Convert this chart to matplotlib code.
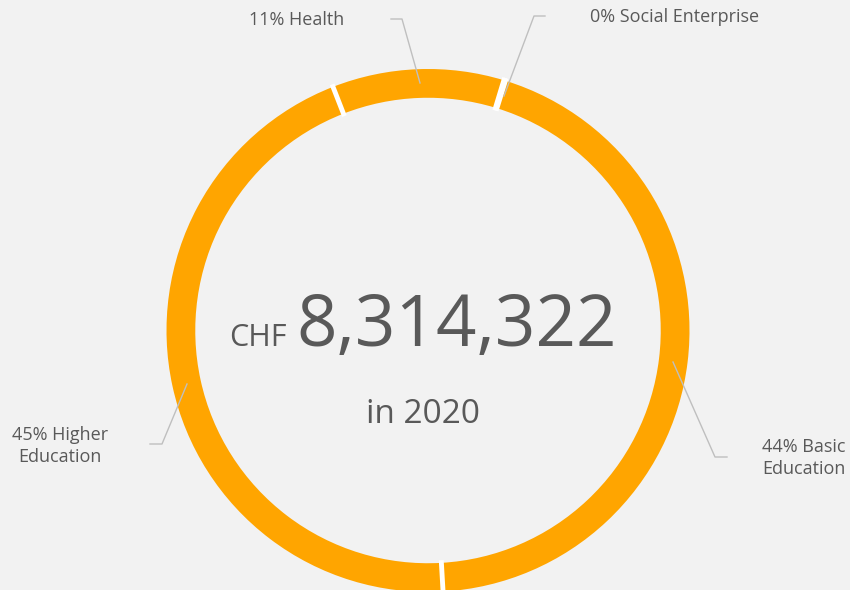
import numpy as np
import matplotlib.pyplot as plt

# ---- data ----
labels = ["Higher\nEducation", "Health", "Social Enterprise", "Basic\nEducation"]
shares = [45.0, 10.6, 0.1, 44.3]
pct_text = ["45%", "11%", "0%", "44%"]
total = "8,314,322"
year = "2020"

BG = "#F2F2F2"
ORANGE = "#FFA500"
GREY = "#595959"
LINE = "#BFBFBF"

plt.rcParams["font.family"] = ["Open Sans", "DejaVu Sans"]

W, H = 850, 590
CX, CY, R = 428, 330.5, 261.5   # ring centre / radius in pixels (from top)
START = -86.7
RING = 0.11

fig = plt.figure(figsize=(8.5, 5.9), dpi=100, facecolor=BG)
ax = fig.add_axes([0, 0, 1, 1])
ax.set_facecolor(BG)

ax.pie(shares, startangle=START, counterclock=False, radius=1,
       colors=[ORANGE] * len(shares),
       wedgeprops=dict(width=RING, edgecolor="none", linewidth=0))

# white separators between slices
cum = np.cumsum([0] + shares[:-1]) / sum(shares)
for frac in cum:
    th = np.deg2rad(START - 360 * frac)
    r = np.array([1 - RING - 0.01, 1.01])
    ax.plot(r * np.cos(th), r * np.sin(th), color="white", lw=3.5,
            solid_capstyle="butt")

ax.set_aspect("auto")
ax.set_xlim(-CX / R, (W - CX) / R)
ax.set_ylim(-(H - CY) / R, CY / R)
ax.axis("off")


def p(x, y):
    # pixel position -> data coords
    return (x - CX) / R, (CY - y) / R


# leader lines
leaders = [
    [(150, 444), (162, 444), (187, 384)],
    [(391, 19), (402, 19), (420, 83)],
    [(545, 16), (534, 16), (504, 96)],
    [(727, 457), (715, 457), (673, 362)],
]
for pts in leaders:
    xy = [p(*q) for q in pts]
    ax.plot([a for a, b in xy], [b for a, b in xy], color=LINE, lw=1)

# slice labels
label_pos = [(60, 446), (297, 20), (675, 17), (804, 458)]
for lab, pc, (x, y) in zip(labels, pct_text, label_pos):
    ax.text(*p(x, y), f"{pc} {lab}", ha="center", va="center",
            fontsize=13, color=GREY, linespacing=1.3)

# centre text
ax.text(*p(287, 346), "CHF", ha="right", va="baseline", fontsize=22, color=GREY)
ax.text(*p(457, 346), total, ha="center", va="baseline", fontsize=51, color=GREY)
ax.text(*p(423, 423), f"in {year}", ha="center", va="baseline", fontsize=24, color=GREY)

fig.savefig("out.png", dpi=100, facecolor=BG)
